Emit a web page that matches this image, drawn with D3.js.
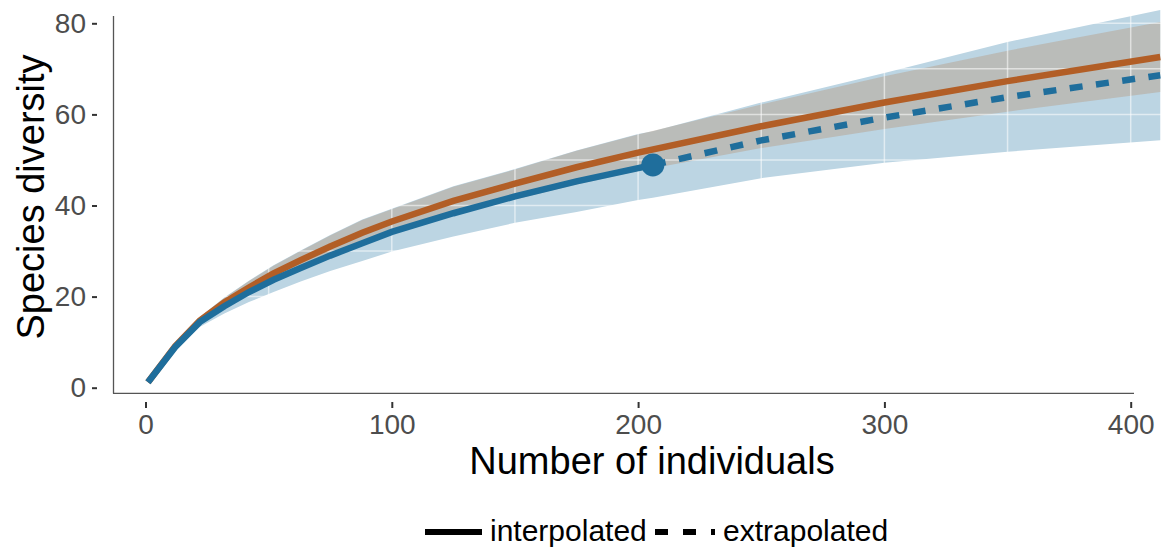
<!DOCTYPE html>
<html>
<head>
<meta charset="utf-8">
<script src="https://cdn.jsdelivr.net/npm/d3@7"></script>
<style>
  body { margin: 0; background: #fff; }
  text { font-family: "Liberation Sans", Arial, sans-serif; }
</style>
</head>
<body>
<script>
// rarefaction curve, sample 1 (blue): interpolated part
var blueInterpN  = [1, 12, 22, 32, 42, 52, 63, 75, 88, 100, 125, 150, 175, 200, 206];
var blueInterpS  = [1.2, 8.9, 14.4, 17.9, 21.0, 23.7, 26.3, 29.0, 31.7, 34.2, 38.3, 42.0, 45.3, 48.2, 48.9];
var blueInterpLo = [1.2, 8.3, 13.3, 16.3, 18.8, 21.0, 23.3, 25.6, 27.8, 29.9, 33.2, 36.2, 38.6, 41.2, 41.7];
var blueInterpHi = [1.2, 9.5, 15.5, 19.8, 23.5, 26.9, 30.1, 33.5, 36.9, 39.3, 44.2, 48.0, 52.1, 55.7, 56.3];
// sample 1 (blue): extrapolated part
var blueExtrapN  = [206, 250, 300, 350, 412];
var blueExtrapS  = [48.9, 54.3, 59.3, 63.8, 68.6];
var blueExtrapLo = [41.7, 46.0, 49.4, 51.8, 54.3];
var blueExtrapHi = [56.3, 62.6, 69.1, 75.9, 82.9];
// sample 2 (orange): interpolated all the way
var orangeN  = [1, 12, 22, 32, 42, 52, 63, 75, 88, 100, 125, 150, 175, 200, 250, 300, 350, 412];
var orangeS  = [1.2, 9.1, 14.7, 18.7, 22.0, 25.1, 28.0, 31.0, 34.0, 36.5, 41.0, 44.8, 48.4, 51.6, 57.4, 62.6, 67.3, 72.6];
var orangeLo = [1.2, 8.7, 14.0, 17.7, 20.6, 23.4, 26.0, 28.6, 31.2, 33.8, 37.9, 41.3, 44.6, 47.6, 52.6, 56.8, 60.6, 64.9];
var orangeHi = [1.2, 9.5, 15.4, 19.7, 23.4, 26.8, 30.0, 33.4, 36.8, 39.2, 44.1, 47.9, 52.0, 55.6, 62.2, 68.4, 74.0, 80.3];

var xTicks = [0, 100, 200, 300, 400];
var yTicks = [0, 20, 40, 60, 80];
var xMinor = [50, 150, 250, 350];
var yMinor = [10, 30, 50, 70];
var legendLabels = ['interpolated', 'extrapolated'];
var xTitle = 'Number of individuals';
var yTitle = 'Species diversity';

var W = 1161, H = 554;
var blueCol = '#1f6e9c', orangeCol = '#b25e26';

var svg = d3.select('body').append('svg')
    .attr('width', W)
    .attr('height', H);

// scales
var x = d3.scaleLinear().domain([0, 400]).range([145.5, 1130.7]);
var y = d3.scaleLinear().domain([0, 80]).range([387.7, 23.3]);

// zip helpers
function pts(ns, vs) { return ns.map(function(n, i) { return { n: n, v: vs[i] }; }); }
function band(ns, lo, hi) { return ns.map(function(n, i) { return { n: n, lo: lo[i], hi: hi[i] }; }); }

var area = d3.area()
    .x(function(d) { return x(d.n); })
    .y0(function(d) { return y(d.lo); })
    .y1(function(d) { return y(d.hi); });
var line = d3.line()
    .x(function(d) { return x(d.n); })
    .y(function(d) { return y(d.v); });

// blue band (interp + extrap)
var blueBand = band(blueInterpN, blueInterpLo, blueInterpHi)
    .concat(band(blueExtrapN, blueExtrapLo, blueExtrapHi).slice(1));
svg.append('path')
    .attr('d', area(blueBand))
    .attr('fill', 'rgb(188,213,227)');

// orange band, see-through so the overlap turns gray
svg.append('path')
    .attr('d', area(band(orangeN, orangeLo, orangeHi)))
    .attr('fill', 'rgb(183,150,122)')
    .attr('fill-opacity', 0.4);

// white grid, only shows up over the bands
var grid = svg.append('g')
    .attr('stroke', '#fff')
    .attr('stroke-opacity', 0.55)
    .attr('stroke-width', 1.5);
xTicks.concat(xMinor).forEach(function(t) {
  grid.append('line')
      .attr('x1', x(t)).attr('x2', x(t))
      .attr('y1', 16).attr('y2', 393);
});
yTicks.concat(yMinor).forEach(function(t) {
  grid.append('line')
      .attr('x1', 114).attr('x2', W)
      .attr('y1', y(t)).attr('y2', y(t));
});

// curves
svg.append('path')
    .attr('d', line(pts(orangeN, orangeS)))
    .attr('fill', 'none')
    .attr('stroke', orangeCol)
    .attr('stroke-width', 6.5);
svg.append('path')
    .attr('d', line(pts(blueInterpN, blueInterpS)))
    .attr('fill', 'none')
    .attr('stroke', blueCol)
    .attr('stroke-width', 6.5);
svg.append('path')
    .attr('d', line(pts(blueExtrapN, blueExtrapS)))
    .attr('fill', 'none')
    .attr('stroke', blueCol)
    .attr('stroke-width', 6.5)
    .attr('stroke-dasharray', '13,13.5');

// reference sample point
svg.append('circle')
    .attr('cx', x(blueInterpN[blueInterpN.length - 1]))
    .attr('cy', y(blueInterpS[blueInterpS.length - 1]))
    .attr('r', 11.5)
    .attr('fill', blueCol);

// axis lines
svg.append('line')
    .attr('x1', 113.5).attr('x2', 113.5)
    .attr('y1', 16).attr('y2', 393.5)
    .attr('stroke', '#555').attr('stroke-width', 1.3);
svg.append('line')
    .attr('x1', 113).attr('x2', 1134)
    .attr('y1', 393.3).attr('y2', 393.3)
    .attr('stroke', '#555').attr('stroke-width', 1.3);

// y axis ticks and labels
var yAxis = svg.append('g')
    .attr('transform', 'translate(97,0)')
    .call(d3.axisLeft(y).tickValues(yTicks).tickSize(5).tickPadding(6));
// x axis ticks and labels
var xAxis = svg.append('g')
    .attr('transform', 'translate(0,402)')
    .call(d3.axisBottom(x).tickValues(xTicks).tickSize(6).tickPadding(6));

[yAxis, xAxis].forEach(function(ax) {
  ax.select('.domain').remove();
  ax.selectAll('.tick line').attr('stroke', '#333').attr('stroke-width', 2);
  ax.selectAll('.tick text')
      .attr('fill', '#4d4d4d')
      .style('font-size', '28px')
      .style('font-family', '"Liberation Sans", Arial, sans-serif');
});

// titles
svg.append('text')
    .attr('x', 652).attr('y', 474)
    .attr('text-anchor', 'middle')
    .style('font-size', '38px')
    .text(xTitle);
svg.append('text')
    .attr('transform', 'translate(44,197) rotate(-90)')
    .attr('text-anchor', 'middle')
    .style('font-size', '38px')
    .text(yTitle);

// legend
var leg = svg.append('g');
leg.append('line')
    .attr('x1', 425).attr('x2', 482)
    .attr('y1', 532).attr('y2', 532)
    .attr('stroke', '#000').attr('stroke-width', 6);
leg.append('text')
    .attr('x', 490).attr('y', 541)
    .style('font-size', '30px')
    .text(legendLabels[0]);
leg.append('line')
    .attr('x1', 655).attr('x2', 715)
    .attr('y1', 532).attr('y2', 532)
    .attr('stroke', '#000').attr('stroke-width', 6)
    .attr('stroke-dasharray', '13,15');
leg.append('text')
    .attr('x', 723).attr('y', 541)
    .style('font-size', '30px')
    .text(legendLabels[1]);
</script>
</body>
</html>
